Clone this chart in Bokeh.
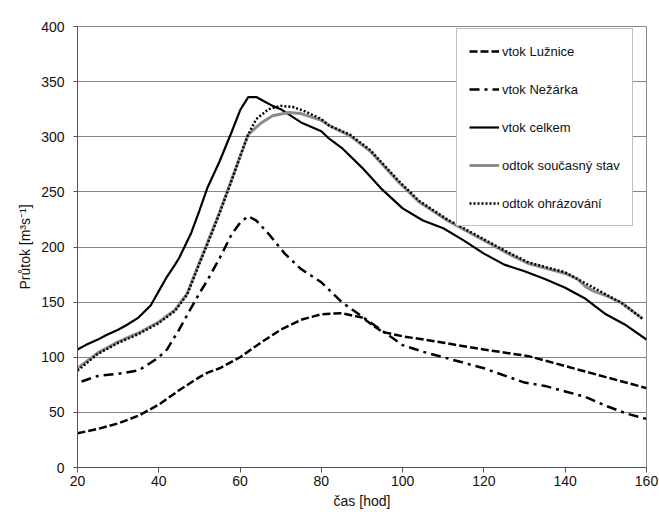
from bokeh.plotting import figure
from bokeh.models import Range1d, FixedTicker, Legend, LegendItem, BoxAnnotation
from bokeh.embed import file_html
from bokeh.resources import INLINE

# --- data ---
t_luznice = [20, 25, 30, 35, 40, 45, 50, 52, 55, 60, 65, 70, 75, 80, 85, 90, 95, 100, 107, 120, 131, 140, 150, 160]
v_luznice = [31, 35, 40, 47, 57, 70, 82, 86, 90, 100, 113, 125, 134, 139, 140, 136, 123, 119, 115, 107, 101, 92, 82, 72]

t_nezarka = [21, 25, 30, 35, 38, 40, 42, 45, 48, 50, 52, 55, 58, 60, 62, 64, 67, 71, 75, 80, 85, 90, 95, 100, 105, 110, 120, 130, 135, 140, 145, 150, 155, 160]
v_nezarka = [78, 83, 85, 88, 95, 100, 107, 125, 145, 158, 170, 190, 212, 222, 228, 224, 212, 194, 180, 168, 150, 137, 124, 111, 105, 100, 90, 77, 74, 69, 64, 56, 49, 44]

t_celkem = [20, 22, 25, 27, 30, 32, 35, 38, 40, 42, 44, 45, 48, 50, 52, 55, 58, 60, 62, 64, 66, 68, 70, 75, 80, 82, 85, 90, 95, 100, 105, 110, 115, 120, 125, 130, 135, 140, 145, 150, 155, 160]
v_celkem = [107, 111, 116, 120, 125, 129, 136, 147, 160, 173, 184, 190, 213, 233, 254, 278, 305, 324, 336, 336, 332, 328, 325, 313, 305, 298, 290, 272, 252, 235, 224, 217, 206, 194, 184, 178, 171, 163, 153, 139, 129, 116]

t_soucasny = [20, 25, 30, 35, 40, 44, 47, 50, 52, 55, 58, 60, 62, 65, 68, 72, 75, 80, 82, 87, 92, 99, 104, 111, 118, 126, 131, 140, 143, 145, 147, 150, 154, 159]
v_soucasny = [90, 104, 114, 122, 132, 143, 158, 186, 204, 232, 262, 282, 302, 312, 319, 322, 321, 315, 310, 301, 287, 259, 241, 224, 210, 194, 185, 176, 171, 164, 160, 156, 149, 135]

t_ohrazovani = [20, 25, 30, 35, 40, 44, 47, 50, 52, 55, 58, 60, 62, 64, 67, 70, 73, 76, 80, 82, 87, 92, 99, 104, 111, 118, 126, 131, 140, 145, 150, 154, 159]
v_ohrazovani = [88, 103, 113, 121, 131, 142, 157, 185, 203, 231, 261, 282, 302, 316, 325, 328, 327, 323, 316, 310, 302, 288, 260, 242, 225, 211, 195, 186, 177, 167, 157, 149, 135]

x_ticks = [20, 40, 60, 80, 100, 120, 140, 160]
y_ticks = [0, 50, 100, 150, 200, 250, 300, 350, 400]

labels = ["vtok Lužnice", "vtok Nežárka", "vtok celkem", "odtok současný stav", "odtok ohrázování"]

FONT = "Liberation Sans"

p = figure(width=659, height=514, output_backend="svg", toolbar_location=None,
           x_range=Range1d(20, 160), y_range=Range1d(0, 400),
           min_border_left=77, min_border_right=13, min_border_top=26, min_border_bottom=47)
p.background_fill_color = "white"
p.border_fill_color = "white"
p.outline_line_color = "#888888"
p.outline_line_width = 1

# outer chart-area border (left and top edges visible in the reference)
outer = BoxAnnotation(left=10, right=760, top=6, bottom=600,
                      left_units="canvas", right_units="canvas",
                      top_units="canvas", bottom_units="canvas",
                      fill_color=None, fill_alpha=0, line_color="#888888", line_width=1,
                      level="underlay", editable=False)
p.add_layout(outer)

p.xgrid.grid_line_color = None
p.ygrid.grid_line_color = "#868686"
p.ygrid.grid_line_width = 1
p.ygrid.ticker = FixedTicker(ticks=y_ticks)

p.xaxis.ticker = FixedTicker(ticks=x_ticks)
p.yaxis.ticker = FixedTicker(ticks=y_ticks)
for ax in (p.xaxis[0], p.yaxis[0]):
    ax.axis_line_color = "#555555"
    ax.axis_line_width = 1
    ax.major_tick_line_color = "#555555"
    ax.major_tick_in = 0
    ax.minor_tick_line_color = None
    ax.major_label_text_font = FONT
    ax.major_label_text_font_size = "14px"
    ax.major_label_text_color = "#111111"
    ax.axis_label_text_font = FONT
    ax.axis_label_text_font_style = "normal"
    ax.axis_label_text_font_size = "14px"
    ax.axis_label_text_color = "#111111"
p.xaxis.major_tick_out = 5
p.yaxis.major_tick_out = 4
p.xaxis.major_label_standoff = 3
p.yaxis.major_label_standoff = 9
p.xaxis.axis_label = "čas [hod]"
p.yaxis.axis_label = "Průtok [m³s⁻¹]"
p.xaxis.axis_label_standoff = 4
p.yaxis.axis_label_standoff = 5

r1 = p.line(t_luznice, v_luznice, line_color="black", line_width=2.5, line_dash="8 3")
r2 = p.line(t_nezarka, v_nezarka, line_color="black", line_width=2.5, line_dash="10 5 3 5")
r3 = p.line(t_celkem, v_celkem, line_color="black", line_width=2.2)
r4 = p.line(t_soucasny, v_soucasny, line_color="#8c8c8c", line_width=3)
r5 = p.line(t_ohrazovani, v_ohrazovani, line_color="black", line_width=2.5, line_dash="2 2")

legend = Legend(items=[LegendItem(label=l, renderers=[r]) for l, r in zip(labels, [r1, r2, r3, r4, r5])],
                location=(379, 241), orientation="vertical")
legend.margin = 0
legend.padding = 12
legend.spacing = 18
legend.glyph_width = 30
legend.glyph_height = 20
legend.label_height = 20
legend.label_standoff = 3
legend.label_text_font = FONT
legend.label_text_font_size = "13px"
legend.label_text_color = "#111111"
legend.border_line_color = "#808080"
legend.border_line_width = 1
legend.background_fill_color = "white"
legend.background_fill_alpha = 1
p.add_layout(legend, "center")

open("out.html", "w").write(file_html(p, INLINE))
